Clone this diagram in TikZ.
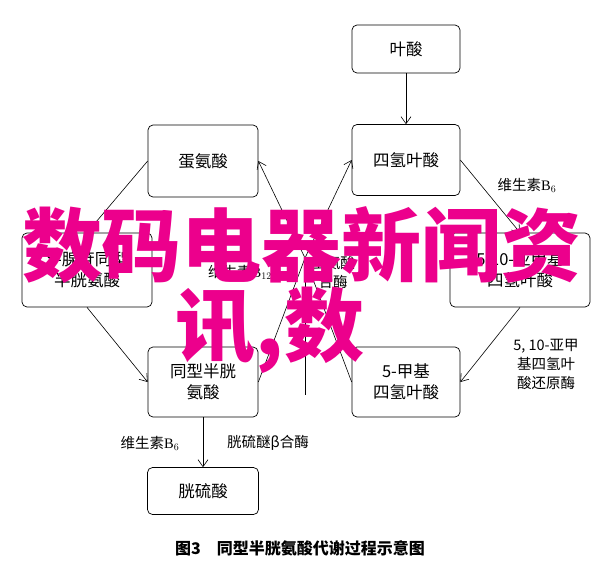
\documentclass[tikz,border=0pt]{standalone}
\usepackage{fontspec}
\setmainfont{Liberation Serif}
\newfontfamily\cjk{Noto Sans CJK SC}
\usetikzlibrary{arrows.meta}
\begin{document}
\begin{tikzpicture}[x=1pt,y=-1pt,
  box/.style={draw,rounded corners=5pt,line width=0.7pt,align=center,font=\cjk\fontsize{16.5}{21}\selectfont},
  arr/.style={line width=0.6pt,-{Straight Barb[length=7pt,width=10pt]}},
  ln/.style={line width=0.6pt},
  lab/.style={align=center,font=\cjk\fontsize{14.5}{19}\selectfont},
  wm/.style={text=magenta,font=\cjk\bfseries\fontsize{80}{88}\selectfont}]
\useasboundingbox (0,0) rectangle (600,574);
\node[box,minimum width=108pt,minimum height=48pt] (ys) at (406,49) {叶酸};
\node[box,minimum width=110pt,minimum height=72pt] (dan) at (203,161) {蛋氨酸};
\node[box,minimum width=108pt,minimum height=71pt] (sq) at (406,160) {四氢叶酸};
\node[box,minimum width=130pt,minimum height=74pt] (sx) at (87,270) {S-腺苷同型\\半胱氨酸};
\node[box,minimum width=140pt,minimum height=74pt] (ya) at (520,270) {5,10-亚甲基\\四氢叶酸};
\node[box,minimum width=110pt,minimum height=70pt] (tx) at (203,382) {同型半胱\\氨酸};
\node[box,minimum width=108pt,minimum height=70pt] (jj) at (406,382) {5-甲基\\四氢叶酸};
\node[box,minimum width=111pt,minimum height=47pt] (gl) at (203,491) {胱硫酸};
\coordinate (apex) at (305,258);
\coordinate (vb) at (305,395);
\draw[arr] (ys) -- (sq);
\draw[arr] (dan.west) -- (sx.north);
\draw[arr] (sx.south) -- (tx.west);
\draw[arr] (sq.east) -- (ya.north);
\draw[arr] (ya.south) -- (jj.east);
\draw[arr] (apex) -- (dan.east);
\draw[arr] (apex) -- (sq.west);
\draw[ln] (tx.east) -- (apex) -- (jj.west);
\draw[ln] (apex) -- (vb);
\draw[arr] (tx) -- (gl);
\node[lab] (l1) at (527,185) {维生素\textrm{B}$_6$};
\node[lab] (l2) at (546,364) {5, 10-亚甲\\基四氢叶\\酸还原酶};
\node[lab] (l3) at (150,443) {维生素\textrm{B}$_6$};
\node[lab] (l4) at (268,443) {胱硫醚β合酶};
\node[lab] (l5) at (240,272) {维生素\textrm{B}$_{12}$};
\node[lab] (l6) at (333,272) {蛋氨酸\\合酶};
\node[font=\cjk\bfseries\fontsize{16}{19}\selectfont] (cap) at (300,548) {图3\quad 同型半胱氨酸代谢过程示意图};
\node[wm] (w1) at (302,245) {数码电器新闻资};
\node[wm] (w2) at (270,330) {讯,数};
\end{tikzpicture}
\end{document}
